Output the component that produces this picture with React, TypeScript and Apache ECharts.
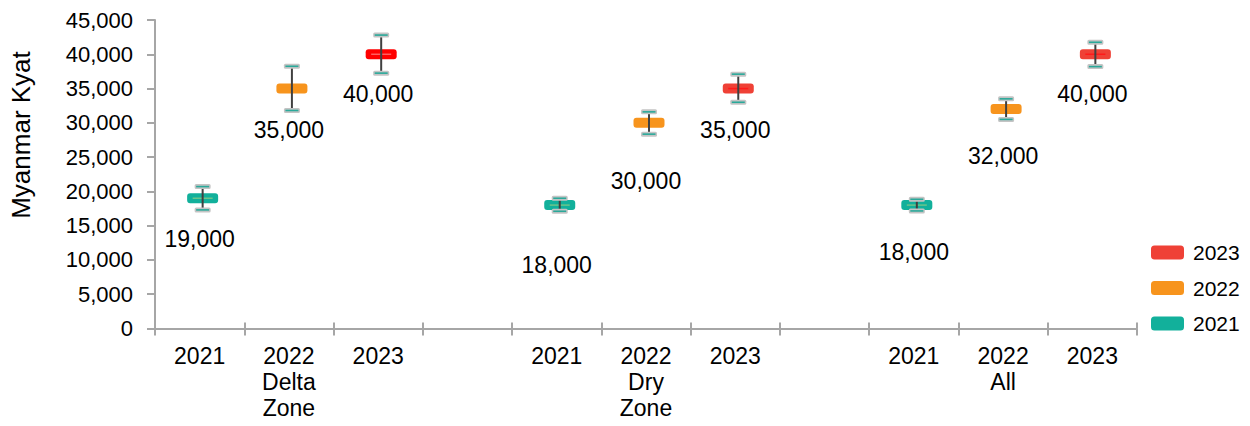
import React, { useEffect, useRef } from 'react';
import * as echarts from 'echarts';

// ---- data ----
const categories = ['2021', '2022', '2023', '', '2021', '2022', '2023', '', '2021', '2022', '2023'];
const zones = ['Delta\nZone', 'Dry\nZone', 'All'];
const years = ['2021', '2022', '2023'];
const yTicks = [0, 5000, 10000, 15000, 20000, 25000, 30000, 35000, 40000, 45000];

// per zone: Delta Zone, Dry Zone, All
const median2021 = [19000, 18000, 18000];
const low2021 = [17300, 17100, 17150];
const high2021 = [20700, 19000, 18850];

const median2022 = [35000, 30000, 32000];
const low2022 = [31800, 28350, 30500];
const high2022 = [38250, 31600, 33500];

const median2023 = [40000, 35000, 40000];
const low2023 = [37250, 33000, 38200];
const high2023 = [42800, 37100, 41750];

const medians = [median2021, median2022, median2023];
const lows = [low2021, low2022, low2023];
const highs = [high2021, high2022, high2023];

// ---- styles ----
const FONT = '"Liberation Sans", Arial, sans-serif';
const fillColors = ['#12b09b', '#f7941d', '#ef4136'];
const innerColors = ['#6cc58a', '#f7941d', '#ff1a1a'];
const specialFill: Record<string, string> = { '0-2': '#ff0000' }; // Delta 2023
const specialInner: Record<string, string> = { '0-2': '#ff6060' };
const labelDy = [
  [41, 60, 47],
  [41, 58, 47],
  [40, 41, 40],
];

const fmt = (v: number) => v.toLocaleString('en-US');

function buildCategoryLabels() {
  return categories.map((c, i) => {
    const zone = Math.floor(i / 4);
    if (i % 4 === 1) return c + '\n' + zones[zone];
    return c;
  });
}

function buildSeries() {
  return years.map((yr, yi) => {
    const data = zones.map((_, zi) => [zi * 4 + yi, medians[yi][zi], lows[yi][zi], highs[yi][zi], zi]);
    return {
      type: 'custom',
      name: yr,
      itemStyle: { color: fillColors[yi] },
      encode: { x: 0, y: [1, 2, 3] },
      data,
      renderItem: (params: any, api: any) => {
        const xi = api.value(0);
        const zi = api.value(4);
        const pm = api.coord([xi, api.value(1)]);
        const pl = api.coord([xi, api.value(2)]);
        const ph = api.coord([xi, api.value(3)]);
        const key = zi + '-' + yi;
        const fill = specialFill[key] || fillColors[yi];
        const inner = specialInner[key] || innerColors[yi];
        const x = pm[0] + 3;
        const w = 31;
        const h = 10;
        const children: any[] = [
          {
            type: 'rect',
            shape: { x: x - w / 2, y: pm[1] - h / 2, width: w, height: h, r: 3 },
            style: { fill },
          },
          {
            type: 'line',
            shape: { x1: x - 10, y1: pm[1], x2: x + 10, y2: pm[1] },
            style: { stroke: inner, lineWidth: 1.5 },
          },
          {
            type: 'line',
            shape: { x1: x, y1: ph[1], x2: x, y2: pl[1] },
            style: { stroke: '#404040', lineWidth: 2 },
          },
        ];
        [ph[1], pl[1]].forEach((cy) => {
          children.push({
            type: 'rect',
            shape: { x: x - 8, y: cy - 2.5, width: 16, height: 5, r: 1.5 },
            style: { fill: '#c4c4c4' },
          });
          children.push({
            type: 'line',
            shape: { x1: x - 6.5, y1: cy, x2: x + 6.5, y2: cy },
            style: { stroke: '#2aa99a', lineWidth: 1.6 },
          });
        });
        children.push({
          type: 'text',
          x: pm[0],
          y: pm[1] + labelDy[yi][zi],
          style: {
            text: fmt(api.value(1)),
            fill: '#000',
            fontSize: 23,
            fontFamily: FONT,
            align: 'center',
            verticalAlign: 'middle',
          },
        });
        return { type: 'group', children };
      },
    };
  });
}

export default function App() {
  const ref = useRef<HTMLDivElement>(null);
  useEffect(() => {
    if (!ref.current) return;
    const chart = echarts.init(ref.current, undefined, { renderer: 'svg' });
    const catLabels = buildCategoryLabels();
    chart.setOption({
      animation: false,
      backgroundColor: '#ffffff',
      textStyle: { fontFamily: FONT },
      grid: { left: 155, right: 113, top: 20, bottom: 97.5, containLabel: false },
      legend: {
        orient: 'vertical',
        left: 1146,
        top: 237,
        itemWidth: 33,
        itemHeight: 14,
        itemGap: 14.5,
        icon: 'roundRect',
        data: ['2023', '2022', '2021'],
        textStyle: { fontSize: 21, color: '#000', fontFamily: FONT, padding: [0, 0, 0, 4] },
      },
      graphic: [
        {
          type: 'text',
          x: 21,
          y: 135,
          rotation: Math.PI / 2,
          style: {
            text: 'Myanmar Kyat',
            fontSize: 26,
            fontFamily: FONT,
            fill: '#000',
            align: 'center',
            verticalAlign: 'middle',
          },
        },
      ],
      xAxis: [
        {
          type: 'category',
          data: catLabels,
          position: 'bottom',
          boundaryGap: true,
          axisLine: { lineStyle: { color: '#a6a6a6', width: 2 } },
          axisTick: { show: true, interval: 0, length: 7, lineStyle: { color: '#a6a6a6', width: 2 } },
          axisLabel: {
            interval: 0,
            fontSize: 23,
            lineHeight: 26,
            color: '#000',
            fontFamily: FONT,
            margin: 14,
          },
          splitLine: { show: false },
        },
        {
          type: 'category',
          data: catLabels,
          position: 'bottom',
          offset: 0,
          boundaryGap: true,
          axisLine: { show: false },
          axisTick: { show: true, inside: true, interval: 0, length: 6, lineStyle: { color: '#a6a6a6', width: 2 } },
          axisLabel: { show: false },
          splitLine: { show: false },
        },
      ],
      yAxis: {
        type: 'value',
        min: yTicks[0],
        max: yTicks[yTicks.length - 1],
        interval: 5000,
        axisLine: { show: true, lineStyle: { color: '#a6a6a6', width: 2 } },
        axisTick: { show: true, length: 8, lineStyle: { color: '#a6a6a6', width: 2 } },
        axisLabel: {
          fontSize: 22,
          color: '#000',
          fontFamily: FONT,
          margin: 22,
          formatter: (v: number) => fmt(v),
        },
        splitLine: { show: false },
      },
      series: buildSeries(),
    });
    return () => chart.dispose();
  }, []);
  return (
    <div
      ref={ref}
      style={{ position: 'fixed', left: 0, top: 0, width: 1250, height: 426 }}
    />
  );
}
